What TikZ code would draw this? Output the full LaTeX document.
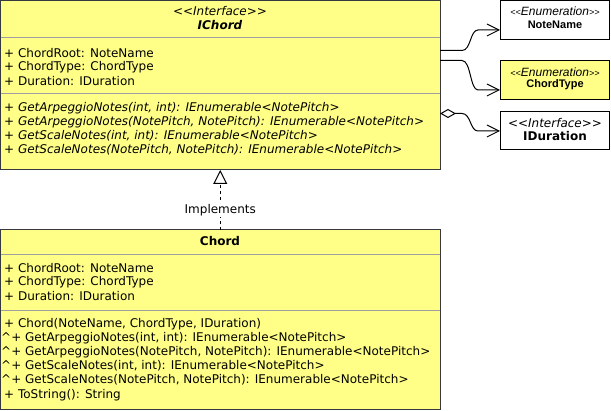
\documentclass[tikz,border=0pt]{standalone}
\usepackage{fontspec}
\setmainfont{DejaVu Sans}
\newfontfamily\arialfont{Liberation Sans}
\usetikzlibrary{arrows.meta,calc}
\definecolor{uyellow}{HTML}{FFFF88}
\definecolor{ugray}{HTML}{A0A0A0}
\definecolor{uborder}{HTML}{36393D}
\newcommand\ltlt{<\kern0pt<}
\newcommand\gtgt{>\kern0pt>}
\newcommand\smltlt{{\fontsize{9}{10}\selectfont<\kern0pt<}}
\newcommand\smgtgt{{\fontsize{9}{10}\selectfont>\kern0pt>}}
\tikzset{
  boxyellow/.style={draw=uborder, fill=uyellow, line width=1pt, inner sep=0pt, outer sep=0pt, anchor=north west},
  boxwhite/.style={draw=black, fill=white, line width=1pt, inner sep=0pt, outer sep=0pt, anchor=north west},
  sep/.style={draw=ugray, line width=1pt},
  mem/.style={anchor=west, inner sep=0pt, font=\fontsize{12}{14}\selectfont},
  imem/.style={mem, font=\fontsize{12}{14}\itshape},
  ttl/.style={inner sep=0pt, font=\fontsize{12}{14}\selectfont},
  conn/.style={line width=1pt, draw=black},
}
\begin{document}
\begin{tikzpicture}[x=1pt,y=-1pt]
\useasboundingbox (0,0) rectangle (611,411);
% IChord
\node[boxyellow, minimum width=439.5pt, minimum height=169.5pt] (ichord) at (0.5,0.5) {};
\draw[sep] (0.5,38) -- (440,38);
\draw[sep] (0.5,94) -- (440,94);
\node[ttl, font=\fontsize{12}{14}\itshape] (ichst) at (220,11) {\ltlt Interface\gtgt};
\node[ttl, font=\fontsize{12}{14}\bfseries\itshape] (ichnm) at (220,25) {IChord};
\node[mem] (ia1) at (4,53) {+ ChordRoot: NoteName};
\node[mem] (ia2) at (4,67) {+ ChordType: ChordType};
\node[mem] (ia3) at (4,81) {+ Duration: IDuration};
\node[imem] (im1) at (4,108) {+ GetArpeggioNotes(int, int): IEnumerable<NotePitch>};
\node[imem] (im2) at (4,122) {+ GetArpeggioNotes(NotePitch, NotePitch): IEnumerable<NotePitch>};
\node[imem] (im3) at (4,136) {+ GetScaleNotes(int, int): IEnumerable<NotePitch>};
\node[imem] (im4) at (4,150) {+ GetScaleNotes(NotePitch, NotePitch): IEnumerable<NotePitch>};
% Chord
\node[boxyellow, minimum width=439.5pt, minimum height=180pt] (chord) at (0.5,230) {};
\draw[sep] (0.5,255) -- (440,255);
\draw[sep] (0.5,311) -- (440,311);
\node[ttl, font=\fontsize{12}{14}\bfseries] (chnm) at (220,241) {Chord};
\node[mem] (ca1) at (4,268) {+ ChordRoot: NoteName};
\node[mem] (ca2) at (4,282) {+ ChordType: ChordType};
\node[mem] (ca3) at (4,296) {+ Duration: IDuration};
\node[mem] (cm1) at (4,324) {+ Chord(NoteName, ChordType, IDuration)};
\node[mem] (cm2) at (1,338) {\textasciicircum+ GetArpeggioNotes(int, int): IEnumerable<NotePitch>};
\node[mem] (cm3) at (1,352) {\textasciicircum+ GetArpeggioNotes(NotePitch, NotePitch): IEnumerable<NotePitch>};
\node[mem] (cm4) at (1,366) {\textasciicircum+ GetScaleNotes(int, int): IEnumerable<NotePitch>};
\node[mem] (cm5) at (1,380) {\textasciicircum+ GetScaleNotes(NotePitch, NotePitch): IEnumerable<NotePitch>};
\node[mem] (cm6) at (4,395) {+ ToString(): String};
% right boxes
\node[boxwhite, minimum width=109.5pt, minimum height=39.5pt] (notename) at (500,0.5) {};
\node[ttl, font=\arialfont\fontsize{12}{14}\itshape] (nnst) at (555,11) {\smltlt Enumeration\smgtgt};
\node[ttl, font=\arialfont\fontsize{11}{13}\bfseries] (nnnm) at (555,25) {NoteName};
\node[boxyellow, draw=black, minimum width=109.5pt, minimum height=39pt] (chordtype) at (500,61) {};
\node[ttl, font=\arialfont\fontsize{12}{14}\itshape] (ctst) at (555,72) {\smltlt Enumeration\smgtgt};
\node[ttl, font=\arialfont\fontsize{11}{13}\bfseries] (ctnm) at (555,85) {ChordType};
\node[boxwhite, minimum width=109.5pt, minimum height=38.5pt] (iduration) at (500,111.5) {};
\node[ttl, font=\fontsize{12}{14}\itshape] (idst) at (555,123) {\ltlt Interface\gtgt};
\node[ttl, font=\fontsize{12}{14}\bfseries] (idnm) at (555,136) {IDuration};
% connectors
\coordinate (c1s) at ($(ichord.north east)+(0,50)$);
\coordinate (c1e) at ($(notename.north west)+(0,29.5)$);
\draw[conn, -{Straight Barb[length=12pt,width=12pt]}] (c1s) -- ++(22,0) .. controls ++(9,0) and ($(c1e)+(-30,0)$) .. ($(c1e)+(-22,0)$) -- (c1e);
\coordinate (c2s) at ($(ichord.north east)+(0,60)$);
\coordinate (c2e) at ($(chordtype.north west)+(0,29)$);
\draw[conn, -{Straight Barb[length=12pt,width=12pt]}] (c2s) -- ++(22,0) .. controls ++(9,0) and ($(c2e)+(-30,0)$) .. ($(c2e)+(-22,0)$) -- (c2e);
\coordinate (c3s) at ($(ichord.north east)+(0,113)$);
\coordinate (c3e) at ($(iduration.north west)+(0,19.5)$);
\draw[conn, {Diamond[open,length=16pt,width=9pt]}-{Straight Barb[length=12pt,width=12pt]}] (c3s) -- ++(22,0) .. controls ++(9,0) and ($(c3e)+(-30,0)$) .. ($(c3e)+(-22,0)$) -- (c3e);
% implements
\draw[conn, dash pattern=on 3pt off 3pt, -{Triangle[open,length=14pt,width=14pt,fill=white]}] (chord.north -| ichord.south) -- node[pos=0.33, fill=white, inner sep=1pt, font=\fontsize{12}{14}\selectfont] (impl) {Implements} (ichord.south);
\end{tikzpicture}
\end{document}
